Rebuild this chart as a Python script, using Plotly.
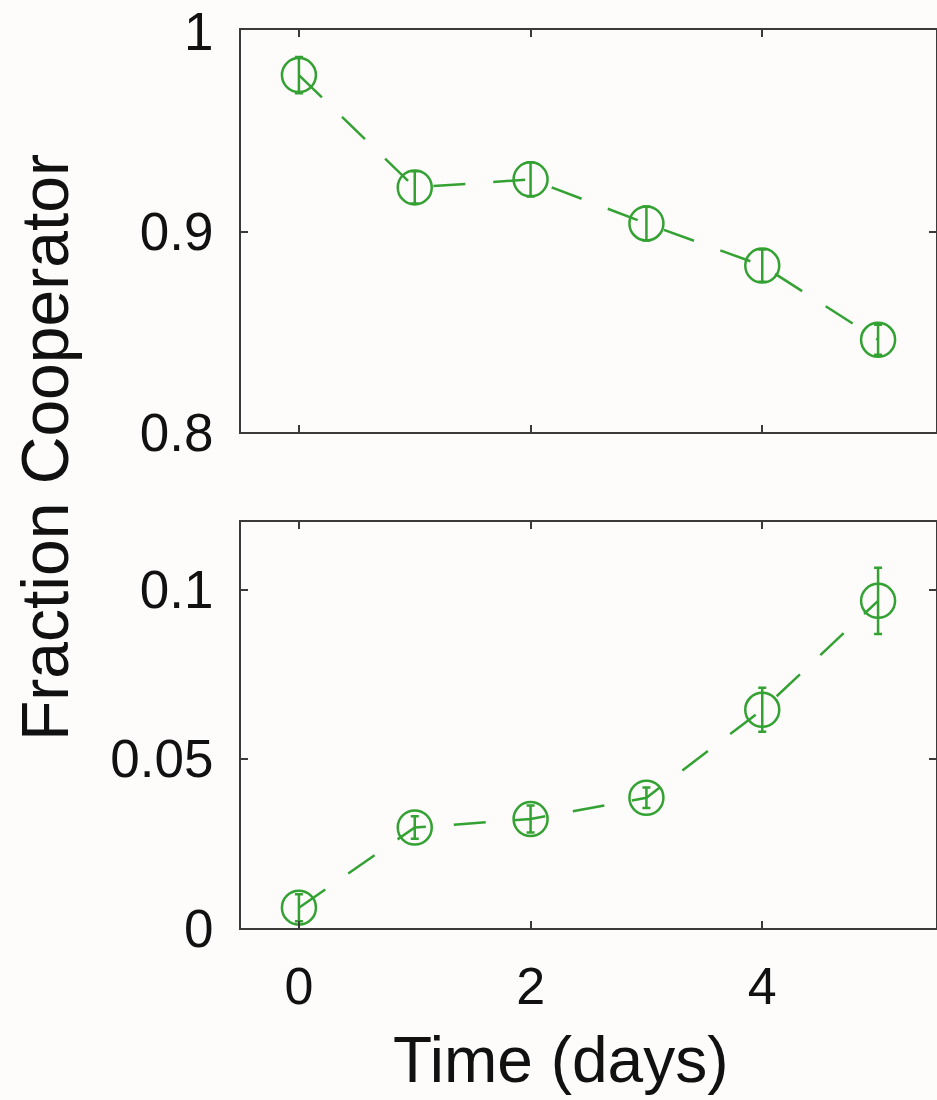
import plotly.graph_objects as go
from plotly.subplots import make_subplots

days = [0, 1, 2, 3, 4, 5]
top_frac = [0.978, 0.922, 0.926, 0.904, 0.883, 0.846]
top_err = [0.009, 0.008, 0.0085, 0.0085, 0.008, 0.0075]
bottom_frac = [0.006, 0.0297, 0.0322, 0.0385, 0.0645, 0.0967]
bottom_err = [0.004, 0.0033, 0.004, 0.003, 0.0065, 0.0098]

x_ticks = [0, 2, 4]
top_ticks = [0.8, 0.9, 1.0]
top_ticktext = ["0.8", "0.9", "1"]
bottom_ticks = [0, 0.05, 0.1]
bottom_ticktext = ["0", "0.05", "0.1"]

GREEN = "#33a233"
AXIS = "#3a3a3a"
FONT = "Liberation Sans, Arial, Helvetica, sans-serif"
W, H = 937, 1100
L, R = 241, 1

fig = make_subplots(rows=2, cols=1)

for row, ys, es in [(1, top_frac, top_err), (2, bottom_frac, bottom_err)]:
    fig.add_trace(go.Scatter(
        x=days, y=ys, mode="lines+markers",
        line=dict(color=GREEN, width=2.5, dash="32px,28px"),
        marker=dict(symbol="circle-open", size=34, color=GREEN, line=dict(width=2.5, color=GREEN)),
        error_y=dict(type="data", array=es, visible=True, color=GREEN, thickness=2.5, width=4),
        showlegend=False, cliponaxis=False,
    ), row=row, col=1)

top_dom = [1 - 432 / H, 1 - 30 / H]
bot_dom = [1 - 928 / H, 1 - 522 / H]

common_x = dict(range=[-0.5, 5.5], tickvals=x_ticks, ticks="inside", ticklen=7, tickwidth=2,
                tickcolor=AXIS, showline=True, linecolor=AXIS, linewidth=2, mirror="ticks",
                showgrid=False, zeroline=False, automargin=False,
                tickfont=dict(family=FONT, size=52, color="#111"))
common_y = dict(ticks="inside", ticklen=7, tickwidth=2, tickcolor=AXIS, showline=True,
                linecolor=AXIS, linewidth=2, mirror="ticks", showgrid=False, zeroline=False,
                automargin=False, tickfont=dict(family=FONT, size=53, color="#111"),
                ticklabelstandoff=15)

fig.update_xaxes(**common_x)
fig.update_yaxes(**common_y)
fig.update_layout(
    xaxis=dict(domain=[0, 1], showticklabels=False),
    xaxis2=dict(domain=[0, 1], showticklabels=True, ticklabelstandoff=12),
    yaxis=dict(domain=top_dom, range=[0.8, 1.0005], tickvals=top_ticks, ticktext=top_ticktext),
    yaxis2=dict(domain=bot_dom, range=[0, 0.12], tickvals=bottom_ticks, ticktext=bottom_ticktext),
    width=W, height=H,
    margin=dict(l=L, r=R, t=0, b=0, autoexpand=False),
    paper_bgcolor="#fefbfb", plot_bgcolor="#fefbfb",
    font=dict(family=FONT, color="#111"),
    annotations=[
        dict(text="Fraction Cooperator", textangle=-90, xref="paper", yref="paper",
             x=(45 - L) / (W - L - R), y=1 - 448 / H, xanchor="center", yanchor="middle",
             showarrow=False, font=dict(family=FONT, size=66, color="#111")),
        dict(text="Time (days)", xref="paper", yref="paper",
             x=(560 - L) / (W - L - R), y=1 - 1060 / H, xanchor="center", yanchor="middle",
             showarrow=False, font=dict(family=FONT, size=64, color="#111")),
    ],
)

fig.write_html("out.html")
